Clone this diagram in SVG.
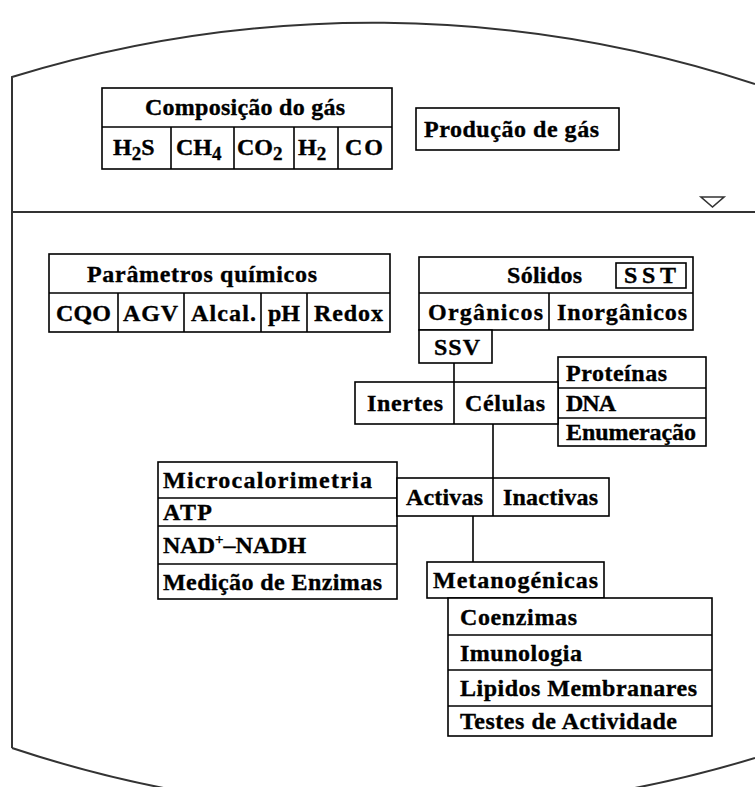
<svg xmlns="http://www.w3.org/2000/svg" width="755" height="787" viewBox="0 0 755 787">
<style>
.bx{fill:#fff;stroke:#000;stroke-width:1.6}
.ln{stroke:#000;stroke-width:1.6;fill:none}
.tank{stroke:#333;stroke-width:2;fill:none}
.t{font-family:"Liberation Serif","Times New Roman",serif;font-weight:bold;font-size:24px;fill:#000;stroke:#000;stroke-width:0.35}
.s{font-size:19px}
.sp{font-size:15px}
</style>
<rect width="755" height="787" fill="#fff"/>
<g id="tank">
<path class="tank" d="M12,748 L12,77 A1225,1225 0 0 1 755,84"/>
<path class="tank" d="M12,748 A1225,1225 0 0 0 755,758"/>
<line class="tank" x1="12" y1="212" x2="755" y2="212"/>
<polygon points="701,197 724,197 712.5,207" fill="#fff" stroke="#333" stroke-width="1.6"/>
</g>
<g id="connectors">
<line class="ln" x1="454" y1="363" x2="454" y2="382"/>
<line class="ln" x1="493" y1="424" x2="493" y2="478"/>
<line class="ln" x1="473" y1="516" x2="473" y2="562"/>
</g>
<g id="composicao">
<rect class="bx" x="102" y="88" width="290" height="81"/>
<line class="ln" x1="102" y1="127" x2="392" y2="127"/>
<line class="ln" x1="171" y1="127" x2="171" y2="169"/>
<line class="ln" x1="234" y1="127" x2="234" y2="169"/>
<line class="ln" x1="294" y1="127" x2="294" y2="169"/>
<line class="ln" x1="338" y1="127" x2="338" y2="169"/>
<text class="t" x="145" y="115" textLength="200" lengthAdjust="spacing">Composição do gás</text>
<text class="t" x="113" y="155">H<tspan class="s" dy="5">2</tspan><tspan dy="-5">S</tspan></text>
<text class="t" x="176" y="155">CH<tspan class="s" dy="5">4</tspan></text>
<text class="t" x="237" y="155">CO<tspan class="s" dy="5">2</tspan></text>
<text class="t" x="298" y="155">H<tspan class="s" dy="5">2</tspan></text>
<text class="t" x="345" y="155" textLength="38" lengthAdjust="spacing">CO</text>
</g>
<g id="producao">
<rect class="bx" x="416" y="108" width="203" height="42"/>
<text class="t" x="424" y="137" textLength="175" lengthAdjust="spacing">Produção de gás</text>
</g>
<g id="parametros">
<rect class="bx" x="49" y="254" width="341" height="78"/>
<line class="ln" x1="49" y1="293" x2="390" y2="293"/>
<line class="ln" x1="118" y1="293" x2="118" y2="332"/>
<line class="ln" x1="184" y1="293" x2="184" y2="332"/>
<line class="ln" x1="261" y1="293" x2="261" y2="332"/>
<line class="ln" x1="307" y1="293" x2="307" y2="332"/>
<text class="t" x="87" y="281.5" textLength="230" lengthAdjust="spacing">Parâmetros químicos</text>
<text class="t" x="56" y="321" textLength="55" lengthAdjust="spacing">CQO</text>
<text class="t" x="123" y="321" textLength="55" lengthAdjust="spacing">AGV</text>
<text class="t" x="191" y="321" textLength="65" lengthAdjust="spacing">Alcal.</text>
<text class="t" x="268" y="321" textLength="32" lengthAdjust="spacing">pH</text>
<text class="t" x="314" y="321" textLength="69" lengthAdjust="spacing">Redox</text>
</g>
<g id="solidos">
<rect class="bx" x="419" y="257" width="274" height="73"/>
<line class="ln" x1="419" y1="293" x2="693" y2="293"/>
<line class="ln" x1="549" y1="293" x2="549" y2="330"/>
<text class="t" x="507" y="283" textLength="75" lengthAdjust="spacing">Sólidos</text>
<rect class="bx" x="616" y="263" width="70" height="25"/>
<text class="t" x="624" y="283" textLength="52" lengthAdjust="spacing">SST</text>
<text class="t" x="428" y="320" textLength="115" lengthAdjust="spacing">Orgânicos</text>
<text class="t" x="557" y="320" textLength="130" lengthAdjust="spacing">Inorgânicos</text>
</g>
<g id="ssv">
<rect class="bx" x="419" y="330" width="73" height="33"/>
<text class="t" x="434" y="355" textLength="46" lengthAdjust="spacing">SSV</text>
</g>
<g id="proteinas">
<rect class="bx" x="558" y="357" width="148" height="89"/>
<line class="ln" x1="558" y1="388" x2="706" y2="388"/>
<line class="ln" x1="558" y1="418" x2="706" y2="418"/>
<text class="t" x="566" y="381" textLength="101" lengthAdjust="spacing">Proteínas</text>
<text class="t" x="566" y="411" textLength="50" lengthAdjust="spacing">DNA</text>
<text class="t" x="566" y="440" textLength="130" lengthAdjust="spacing">Enumeração</text>
</g>
<g id="celulas">
<rect class="bx" x="355" y="382" width="203" height="42"/>
<line class="ln" x1="454" y1="382" x2="454" y2="424"/>
<text class="t" x="367" y="411" textLength="76" lengthAdjust="spacing">Inertes</text>
<text class="t" x="465" y="411" textLength="80" lengthAdjust="spacing">Células</text>
</g>
<g id="microcalorimetria">
<rect class="bx" x="158" y="462" width="239" height="137"/>
<line class="ln" x1="158" y1="498" x2="397" y2="498"/>
<line class="ln" x1="158" y1="526" x2="397" y2="526"/>
<line class="ln" x1="158" y1="564" x2="397" y2="564"/>
<text class="t" x="163" y="488" textLength="209" lengthAdjust="spacing">Microcalorimetria</text>
<text class="t" x="163" y="520" textLength="49" lengthAdjust="spacing">ATP</text>
<text class="t" x="163" y="553">NAD<tspan class="sp" dy="-9">+</tspan><tspan dy="9">–NADH</tspan></text>
<text class="t" x="163" y="589.5" textLength="219" lengthAdjust="spacing">Medição de Enzimas</text>
</g>
<g id="activas">
<rect class="bx" x="397" y="478" width="212" height="38"/>
<line class="ln" x1="493" y1="478" x2="493" y2="516"/>
<text class="t" x="406" y="505" textLength="77" lengthAdjust="spacing">Activas</text>
<text class="t" x="503" y="505" textLength="95" lengthAdjust="spacing">Inactivas</text>
</g>
<g id="metanogenicas">
<rect class="bx" x="427" y="562" width="177" height="36"/>
<text class="t" x="433" y="588" textLength="165" lengthAdjust="spacing">Metanogénicas</text>
</g>
<g id="coenzimas">
<rect class="bx" x="448" y="598" width="264" height="138"/>
<line class="ln" x1="448" y1="635" x2="712" y2="635"/>
<line class="ln" x1="448" y1="670" x2="712" y2="670"/>
<line class="ln" x1="448" y1="706" x2="712" y2="706"/>
<text class="t" x="460" y="624.5" textLength="117" lengthAdjust="spacing">Coenzimas</text>
<text class="t" x="460" y="660.5" textLength="122" lengthAdjust="spacing">Imunologia</text>
<text class="t" x="460" y="696" textLength="237" lengthAdjust="spacing">Lipidos Membranares</text>
<text class="t" x="460" y="729" textLength="217" lengthAdjust="spacing">Testes de Actividade</text>
</g>
</svg>
